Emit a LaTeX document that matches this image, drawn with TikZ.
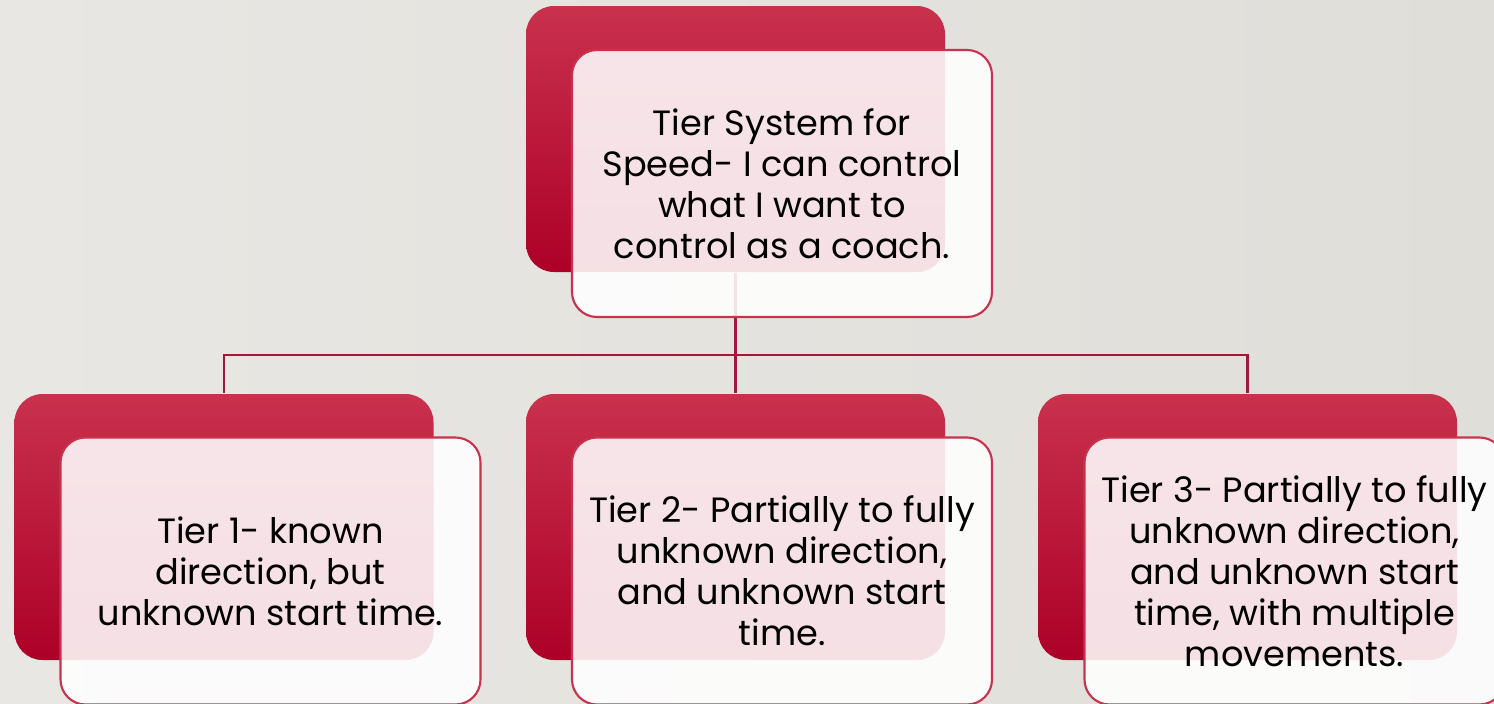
\documentclass[tikz,border=0pt]{standalone}
\usepackage{fontspec}
\setmainfont{Poppins}
\usepackage{xcolor}
\usepackage{tikz}
\usetikzlibrary{positioning}
\definecolor{tierred}{RGB}{201, 49, 77}
\definecolor{tierdark}{RGB}{173, 0, 40}
\definecolor{tierline}{RGB}{163, 24, 58}
\definecolor{paper}{RGB}{224, 222, 217}
\definecolor{paperlight}{RGB}{232, 231, 227}

\begin{document}
\begin{tikzpicture}[font=\fontsize{10}{11.7}\selectfont,
  back/.style={rounded corners=2.8mm, top color=tierred, bottom color=tierdark,
               minimum width=4.19cm, minimum height=2.66cm},
  card/.style={draw=tierred, line width=0.6pt, rounded corners=2.5mm,
               fill=white, fill opacity=0.88, text opacity=1,
               minimum width=4.2cm, minimum height=2.67cm, align=center},
  link/.style={draw=tierline, line width=0.6pt}]
  % page
  \useasboundingbox (0,0) rectangle (14.94,7.03);
  \shade[left color=paperlight, right color=paper] (0,0) rectangle (14.94,7.03);

  % red backs
  \node[back] (topbg) at (7.355,5.64) {};
  \node[back] (t1bg) at (2.24,1.76) {};
  \node[back] (t2bg) at (7.355,1.76) {};
  \node[back] (t3bg) at (12.475,1.76) {};

  % tree lines
  \coordinate (fork) at (7.355,3.48);
  \draw[link] (topbg.south) -- (fork);
  \draw[link] (fork) -| (t1bg.north);
  \draw[link] (fork) -- (t2bg.north);
  \draw[link] (fork) -| (t3bg.north);

  % cards
  \node[card] (top) at (7.82,5.195) {Tier System for\\Speed- I can control\\what I want to\\control as a coach.};
  \node[card] (t1) at (2.705,1.32) {Tier 1- known\\direction, but\\unknown start time.};
  \node[card] (t2) at (7.82,1.32) {Tier 2- Partially to fully\\unknown direction,\\and unknown start\\time.};
  \node[card] (t3) at (12.945,1.32) {Tier 3- Partially to fully\\unknown direction,\\and unknown start\\time, with multiple\\movements.};
\end{tikzpicture}
\end{document}
